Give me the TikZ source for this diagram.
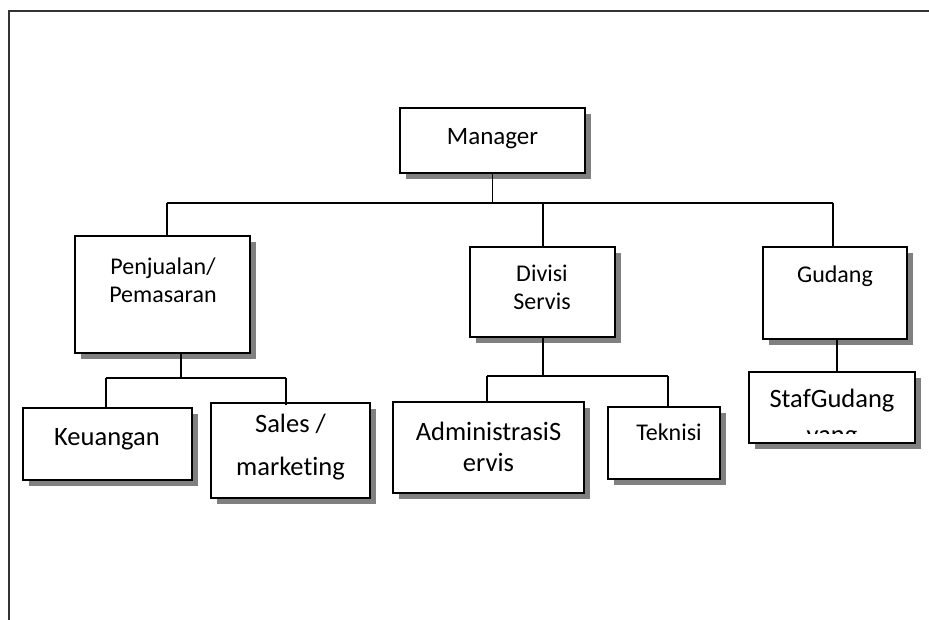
\documentclass[tikz,border=0pt]{standalone}
\usepackage{fontspec}
\setmainfont{Carlito}[RawFeature={-liga}]
\usetikzlibrary{shadows}
\begin{document}
\begin{tikzpicture}[x=1pt,y=-1pt,
  bx/.style={draw=black, line width=2pt, fill=white, inner sep=0pt,
    copy shadow={shadow xshift=6pt, shadow yshift=-6pt, draw=none, fill=black!50}},
  conn/.style={draw=black, line width=1.8pt},
  frameline/.style={draw=black!80, line width=2pt},
  tsm/.style={font=\fontsize{24}{29}\selectfont, anchor=base, inner sep=0pt},
  tmd/.style={font=\fontsize{25}{30}\selectfont, anchor=base, inner sep=0pt},
  tlg/.style={font=\fontsize{26.5}{32}\selectfont, anchor=base, inner sep=0pt}]
\useasboundingbox (0,0) rectangle (929,620);
\fill[white] (0,0) rectangle (929,620);
% frame
\draw[frameline] (929,11) -- (9,11) -- (9,620);
% boxes
\node[bx, minimum width=185pt, minimum height=65pt] (man) at (492.5,140.5) {};
\node[bx, minimum width=175pt, minimum height=117pt] (pen) at (162.5,294.5) {};
\node[bx, minimum width=145pt, minimum height=90pt] (div) at (542.5,292) {};
\node[bx, minimum width=144pt, minimum height=92pt] (gud) at (835,293) {};
\node[bx, minimum width=169pt, minimum height=72pt] (keu) at (107.5,444) {};
\node[bx, minimum width=159pt, minimum height=95pt] (sal) at (290.5,450.5) {};
\node[bx, minimum width=191pt, minimum height=91pt] (adm) at (488.5,447.5) {};
\node[bx, minimum width=112pt, minimum height=72pt] (tek) at (664,443) {};
\node[bx, minimum width=166pt, minimum height=71pt] (staf) at (832,407.5) {};
% texts
\node[tmd] (manT) at (492.5,145) {Manager};
\node[tsm] (penT1) at (163,275) {Penjualan/};
\node[tsm] (penT2) at (163,302) {Pemasaran};
\node[tsm] (divT1) at (542,282) {Divisi};
\node[tsm] (divT2) at (542,309) {Servis};
\node[tsm] (gudT) at (835,283) {Gudang};
\node[tlg] (keuT) at (107,445) {Keuangan};
\node[tlg] (salT1) at (290.5,432) {Sales /};
\node[tlg] (salT2) at (290.5,475) {marketing};
\node[tlg] (admT1) at (488.5,440) {AdministrasiS};
\node[tlg] (admT2) at (488.5,471) {ervis};
\node[tsm] (tekT) at (669,440) {Teknisi};
\node[tlg] (stafT1) at (832,407) {StafGudang};
\begin{scope}
  \clip (749,372) rectangle (915,433);
  \node[tlg] (stafT2) at (832,443.5) {yang};
\end{scope}
% connectors level 1
\coordinate (bL) at (167,203);
\coordinate (bM) at (543,203);
\coordinate (bR) at (833,203);
\draw[conn] (man.south) -- (man.south |- bL);
\draw[conn] (bL) -- (bR);
\draw[conn] (bL) -- (bL |- pen.north);
\draw[conn] (bM) -- (bM |- div.north);
\draw[conn] (bR) -- (bR |- gud.north);
% Penjualan children
\coordinate (p0) at (181,378);
\coordinate (pL) at (106,378);
\coordinate (pR) at (286,378);
\draw[conn] (p0 |- pen.south) -- (p0);
\draw[conn] (pL) -- (pR);
\draw[conn] (pL) -- (pL |- keu.north);
\draw[conn] (pR) -- ([yshift=-3pt]pR |- sal.north);
% Divisi children
\coordinate (d0) at (543,376);
\coordinate (dL) at (487,376);
\coordinate (dR) at (668,376);
\draw[conn] (d0 |- div.south) -- (d0);
\draw[conn] (dL) -- (dR);
\draw[conn] (dL) -- (dL |- adm.north);
\draw[conn] (dR) -- (dR |- tek.north);
% Gudang child
\coordinate (g0) at (837,356);
\draw[conn] (g0 |- gud.south) -- (g0 |- staf.north);
\end{tikzpicture}
\end{document}
